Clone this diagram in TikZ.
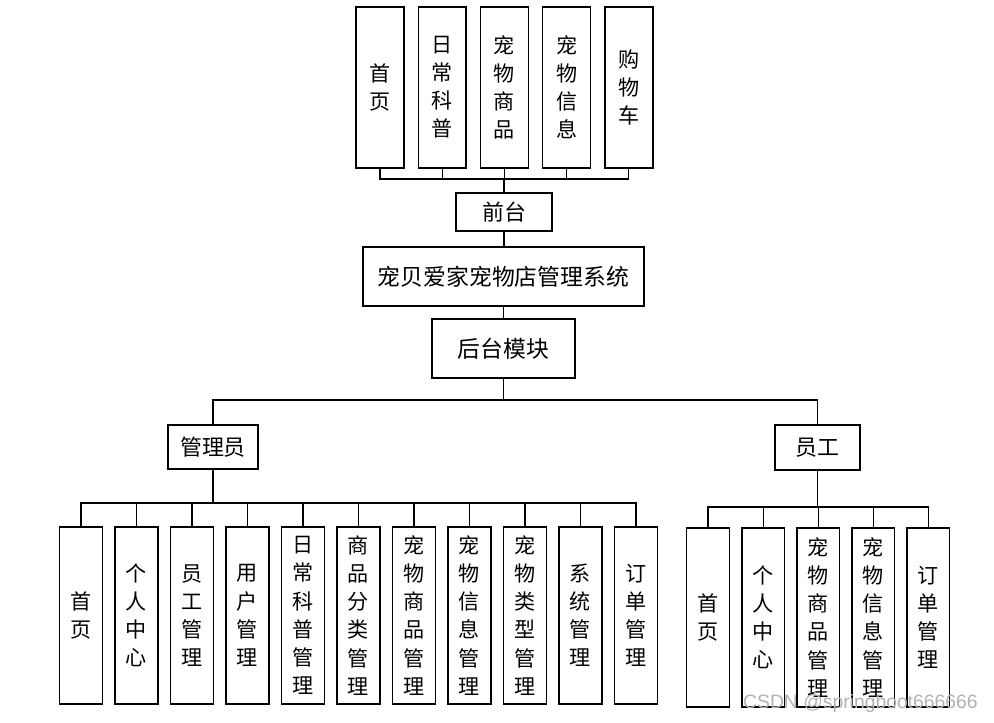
\documentclass[tikz,border=0pt]{standalone}
\usepackage{fontspec}
\setmainfont{Noto Sans CJK SC}
\newfontfamily\wmfont{Liberation Sans}

\begin{document}
\begin{tikzpicture}[x=0.02cm, y=-0.02cm,
  box/.style={draw, line width=0.8pt, inner sep=0pt, align=center, font=\fontsize{12.5}{16}\selectfont},
  tallbox/.style={box, minimum width=0.96cm, minimum height=3.22cm, font=\fontsize{12}{16}\selectfont},
  link/.style={line width=0.6pt}]

\useasboundingbox (0,0) rectangle (994,723);

% front end
\foreach \t [count=\i] in {{首\\页},{日\\常\\科\\普},{宠\\物\\商\\品},{宠\\物\\信\\息},{购\\物\\车}}
    \node [tallbox] (f\i) at ({380+62.2*(\i-1)},87.5) {\t};

\node [box, minimum width=1.92cm, minimum height=0.76cm] (qt) at (504,212) {前台};
\node [box, minimum width=5.62cm, minimum height=1.18cm, font=\fontsize{13}{16}\selectfont] (sys) at (503.5,276.5) {宠贝爱家宠物店管理系统};
\node [box, minimum width=2.86cm, minimum height=1.18cm, font=\fontsize{13}{16}\selectfont] (ht) at (503.5,348.5) {后台模块};

% back end roles
\node [box, minimum width=1.8cm, minimum height=0.88cm] (admin) at (213,447) {管理员};
\node [box, minimum width=1.7cm, minimum height=0.9cm] (staff) at (817.5,447.5) {员工};

% admin modules
\foreach \t [count=\i] in {{首\\页},{个\\人\\中\\心},{员\\工\\管\\理},{用\\户\\管\\理},{日\\常\\科\\普\\管\\理},{商\\品\\分\\类\\管\\理},{宠\\物\\商\\品\\管\\理},{宠\\物\\信\\息\\管\\理},{宠\\物\\类\\型\\管\\理},{系\\统\\管\\理},{订\\单\\管\\理}}
    \node [tallbox, minimum width=0.86cm, minimum height=3.54cm] (a\i) at ({81+55.5*(\i-1)},615.5) {\t};

% staff modules
\foreach \t [count=\i] in {{首\\页},{个\\人\\中\\心},{宠\\物\\商\\品\\管\\理},{宠\\物\\信\\息\\管\\理},{订\\单\\管\\理}}
    \node [tallbox, minimum width=0.85cm, minimum height=3.58cm] (s\i) at ({708+55.1*(\i-1)},617.5) {\t};

% connectors
\coordinate (fbus) at (504,179);
\foreach \i in {1,...,5}
    \draw [link] (f\i.south) |- (fbus);
\draw [link, line width=1pt] (qt.north) -- (fbus);
\draw [link] (qt.south) -- (qt.south |- sys.north);
\draw [link] (sys.south) -- (sys.south |- ht.north);

\coordinate (hbus) at (503.5,400);
\draw [link] (ht.south) -- (hbus);
\draw [link] (admin.north) |- (hbus);
\draw [link] (staff.north) |- (hbus);

\coordinate (abus) at (213,503);
\draw [link, line width=1pt] (admin.south) -- (abus);
\foreach \i in {1,...,11}
    \draw [link] (a\i.north) |- (abus);

\coordinate (sbus) at (817.5,507);
\draw [link, line width=1pt] (staff.south) -- (sbus);
\foreach \i in {1,...,5}
    \draw [link] (s\i.north) |- (sbus);

% watermark
\node [text=gray!60, inner sep=0pt, font=\wmfont\fontsize{11}{13}\selectfont, anchor=east] (wm) at (978,703) {CSDN @springboot666666};

\end{tikzpicture}
\end{document}
